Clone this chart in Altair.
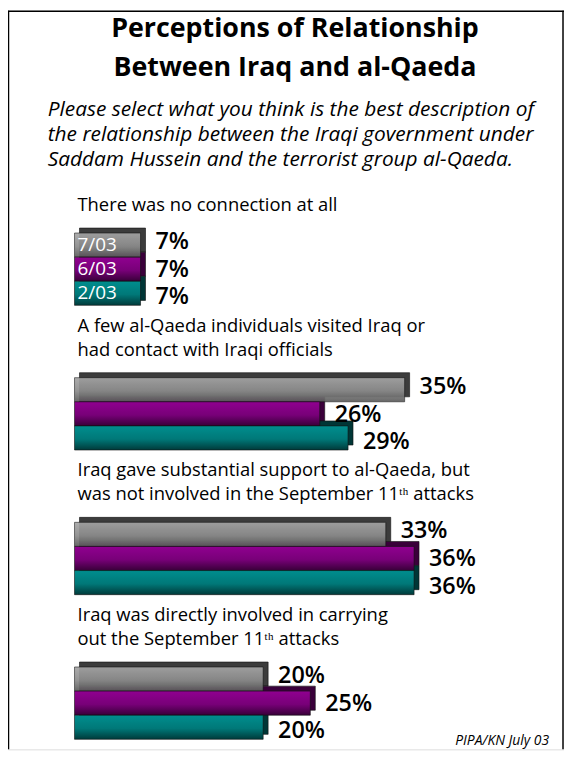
import altair as alt
import pandas as pd

# ---------------- data ----------------
title_lines = ["Perceptions of Relationship", "Between Iraq and al-Qaeda"]
subtitle_lines = [
    "Please select what you think is the best description of",
    "the relationship between the Iraqi government under",
    "Saddam Hussein and the terrorist group al-Qaeda.",
]
categories = ["none", "few", "support", "direct"]
category_labels = [
    ["There was no connection at all"],
    ["A few al-Qaeda individuals visited Iraq or", "had contact with Iraqi officials"],
    ["Iraq gave substantial support to al-Qaeda, but",
     "was not involved in the September 11\u1d57\u02b0 attacks"],
    ["Iraq was directly involved in carrying",
     "out the September 11\u1d57\u02b0 attacks"],
]
series = ["7/03", "6/03", "2/03"]
values_jul03 = [7, 35, 33, 20]
values_jun03 = [7, 26, 36, 25]
values_feb03 = [7, 29, 36, 20]
source_note = "PIPA/KN July 03"

# ---------------- tables ----------------
FONT = "Open Sans"
series_values = {"7/03": values_jul03, "6/03": values_jun03, "2/03": values_feb03}

row_domain = []
for i, _ in enumerate(categories):
    row_domain += [f"{i}|hdr1", f"{i}|hdr2"] + [f"{i}|{s}" for s in series]
    if i < len(categories) - 1:
        row_domain.append(f"{i}|gap")

bar_rows = []
for i, cat in enumerate(categories):
    for s in series:
        v = series_values[s][i]
        bar_rows.append({"category": cat, "cat_idx": i, "series": s, "value": v,
                         "label": f"{v}%", "row": f"{i}|{s}"})
bars = pd.DataFrame(bar_rows)

hdr_rows = []
for i, lines in enumerate(category_labels):
    slots = ["hdr2"] if len(lines) == 1 else ["hdr1", "hdr2"]
    for slot, line in zip(slots, lines):
        hdr_rows.append({"row": f"{i}|{slot}", "text": line})
headers = pd.DataFrame(hdr_rows)

one = pd.DataFrame({"k": [0]})

W, H = 560, 744
x_scale = alt.Scale(domain=[0, 50], range=[67, 542])
y_scale = alt.Scale(domain=row_domain, range=[175.4, 733.9], paddingInner=0, paddingOuter=0)
X = alt.X("value:Q", scale=x_scale, axis=None)
Y = alt.Y("row:N", scale=y_scale, axis=None)

def grad(c0, c1, c2):
    return alt.Gradient(
        gradient="linear", x1=0, x2=0, y1=0, y2=1,
        stops=[alt.GradientStop(color=c0, offset=0),
               alt.GradientStop(color=c1, offset=0.55),
               alt.GradientStop(color=c2, offset=1)],
    )

front_fills = {
    "7/03": grad("#a6a6a6", "#8c8c8c", "#5a5a5a"),
    "6/03": grad("#900090", "#780078", "#380038"),
    "2/03": grad("#008e8e", "#007878", "#003a3a"),
}
back_colors = ["#3c3c3c", "#3a003a", "#003636"]
label_dy = {"7/03": -3, "6/03": 1, "2/03": 4}

base = alt.Chart(bars)

back = base.mark_bar(xOffset=5, x2Offset=5, yOffset=-5, y2Offset=-5,
                     stroke="#111111", strokeWidth=0.6).encode(
    x=X, y=Y,
    color=alt.Color("series:N", scale=alt.Scale(domain=series, range=back_colors), legend=None),
)

fronts = []
pcts = []
for s in series:
    sub = base.transform_filter(alt.datum.series == s)
    fronts.append(
        sub.mark_bar(color=front_fills[s], stroke="#111111", strokeWidth=0.6,
                     opacity=0.92 if s == "7/03" else 1)
        .encode(x=X, y=Y)
    )
    pcts.append(
        sub.mark_text(align="left", baseline="middle", dx=15, dy=label_dy[s],
                      font=FONT, fontSize=23.5, fontWeight=600, color="black")
        .encode(x=X, y=Y, text="label:N")
    )

dates = base.transform_filter(alt.datum.cat_idx == 0).mark_text(
    align="left", baseline="middle", dx=3, font=FONT, fontSize=19,
    fontWeight="normal", color="white").encode(
    x=alt.datum(0, scale=x_scale), y=Y, text="series:N")

hdr = alt.Chart(headers).mark_text(
    align="left", baseline="middle", dx=3, dy=-16, font=FONT, fontSize=18.5,
    color="black").encode(x=alt.datum(0, scale=x_scale), y=Y, text="text:N")

title = alt.Chart(one).mark_text(
    text=title_lines, align="center", baseline="top", lineHeight=39,
    font=FONT, fontSize=27, fontWeight="bold", color="black").encode(
    x=alt.value(289), y=alt.value(6))

subtitle = alt.Chart(one).mark_text(
    text=subtitle_lines, align="left", baseline="top", lineHeight=25,
    font=FONT, fontSize=21, fontStyle="italic", color="black").encode(
    x=alt.value(40), y=alt.value(89))

source = alt.Chart(one).mark_text(
    text=source_note, align="right", baseline="bottom",
    font=FONT, fontSize=14, fontStyle="italic", color="black").encode(
    x=alt.value(545), y=alt.value(743))

frame_left = alt.Chart(one).mark_rule(color="black", strokeWidth=1.5).encode(
    x=alt.value(0.5), y=alt.value(0), y2=alt.value(H))
frame_right = alt.Chart(one).mark_rule(color="black", strokeWidth=1.5).encode(
    x=alt.value(W - 1), y=alt.value(0), y2=alt.value(H))
frame_top = alt.Chart(one).mark_rule(color="black", strokeWidth=1.5).encode(
    x=alt.value(0), x2=alt.value(W), y=alt.value(0.5))

chart = alt.layer(
    frame_left, frame_right, frame_top, title, subtitle,
    back, *fronts, *pcts, dates, hdr, source,
).properties(
    width=W, height=H,
    autosize=alt.AutoSizeParams(type="none"),
    padding={"left": 0, "right": 0, "top": 0, "bottom": 0},
).configure_view(stroke=None).configure(background="white")

chart.save("out.html", embed_options={"renderer": "svg", "actions": False})
